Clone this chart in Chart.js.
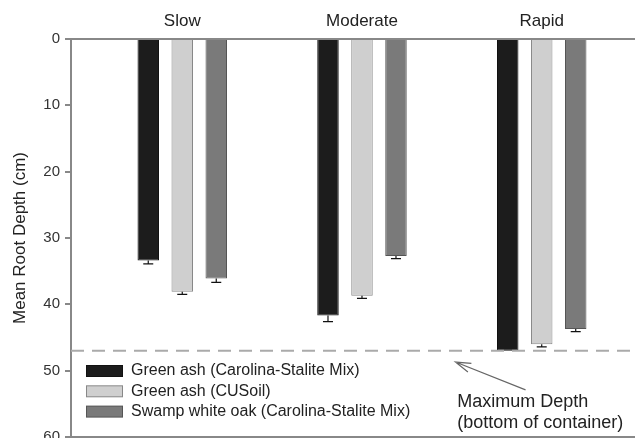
<!DOCTYPE html>
<html>
<head>
<meta charset="utf-8">
<script src="https://cdn.jsdelivr.net/npm/chart.js@4.4.1/dist/chart.umd.min.js"></script>
<style>
  html, body { margin: 0; padding: 0; background: #fff; }
  #wrap { width: 635px; height: 438px; }
</style>
</head>
<body>
<div id="wrap"><canvas id="rootChart" width="635" height="438"></canvas></div>
<script>
// Drain rate groups
const categories = ['Slow', 'Moderate', 'Rapid'];

// Mean root depth (cm) per series
const greenAshStalite = [33.4, 41.7, 47.0];
const greenAshCUSoil = [38.1, 38.7, 46.0];
const swampOakStalite = [36.1, 32.7, 43.7];

// Standard errors (drawn below the bar end only)
const errStalite = [0.5, 0.9, 0];
const errCUSoil = [0.4, 0.4, 0.4];
const errOak = [0.6, 0.4, 0.4];

const seriesLabels = [
    'Green ash (Carolina-Stalite Mix)',
    'Green ash (CUSoil)',
    'Swamp white oak (Carolina-Stalite Mix)'
];

const yTicks = [0, 10, 20, 30, 40, 50, 60];
const maxDepth = 47;

const FONT = '"Liberation Sans", Arial, sans-serif';

function toPoints(values) {
    return values.map((v, i) => ({ x: i, y: v }));
}

// error bars, legend, container line and note
const extras = {
    id: 'extras',
    afterDatasetsDraw(chart) {
        const ctx = chart.ctx;
        const yScale = chart.scales.y;
        ctx.save();
        ctx.strokeStyle = '#111';
        ctx.lineWidth = 1.2;
        chart.data.datasets.forEach((ds, di) => {
            const meta = chart.getDatasetMeta(di);
            meta.data.forEach((bar, i) => {
                const err = ds.errors[i];
                if (!err) return;
                const y0 = bar.y;
                const y1 = yScale.getPixelForValue(ds.data[i].y + err);
                ctx.beginPath();
                ctx.moveTo(bar.x, y0);
                ctx.lineTo(bar.x, y1);
                ctx.moveTo(bar.x - 5, y1);
                ctx.lineTo(bar.x + 5, y1);
                ctx.stroke();
            });
        });
        ctx.restore();
    },
    afterDraw(chart) {
        const ctx = chart.ctx;
        const area = chart.chartArea;
        const xScale = chart.scales.x;
        const yScale = chart.scales.y;
        ctx.save();

        // bottom frame line
        ctx.strokeStyle = '#888';
        ctx.lineWidth = 2;
        ctx.beginPath();
        ctx.moveTo(area.left, area.bottom);
        ctx.lineTo(area.right, area.bottom);
        ctx.stroke();

        // maximum depth dashed line
        const yMax = yScale.getPixelForValue(maxDepth);
        ctx.strokeStyle = '#aaa';
        ctx.lineWidth = 2;
        ctx.setLineDash([13, 8]);
        ctx.beginPath();
        ctx.moveTo(area.left, yMax);
        ctx.lineTo(area.right, yMax);
        ctx.stroke();
        ctx.setLineDash([]);

        // arrow + note
        const ax = xScale.getPixelForValue(1.52);
        const ay = yScale.getPixelForValue(48.7);
        const tx = xScale.getPixelForValue(1.91);
        const ty = yScale.getPixelForValue(52.9);
        ctx.strokeStyle = '#666';
        ctx.lineWidth = 1.2;
        ctx.beginPath();
        ctx.moveTo(tx, ty);
        ctx.lineTo(ax, ay);
        const ang = Math.atan2(ty - ay, tx - ax);
        ctx.moveTo(ax + 16 * Math.cos(ang - 0.3), ay + 16 * Math.sin(ang - 0.3));
        ctx.lineTo(ax, ay);
        ctx.lineTo(ax + 16 * Math.cos(ang + 0.3), ay + 16 * Math.sin(ang + 0.3));
        ctx.stroke();

        ctx.fillStyle = '#222';
        ctx.font = '18px ' + FONT;
        ctx.textBaseline = 'middle';
        ctx.textAlign = 'left';
        const nx = xScale.getPixelForValue(1.53);
        ctx.fillText('Maximum Depth', nx, yScale.getPixelForValue(54.8));
        ctx.fillText('(bottom of container)', nx, yScale.getPixelForValue(57.9));

        // legend
        ctx.font = '16px ' + FONT;
        const lx = area.left + 15;
        const ly = area.bottom - 72;
        chart.data.datasets.forEach((ds, i) => {
            const top = ly + i * 20.3;
            ctx.fillStyle = ds.borderColor;
            ctx.fillRect(lx, top, 37, 12);
            ctx.fillStyle = ds.backgroundColor;
            ctx.fillRect(lx + 1, top + 1, 35, 10);
            ctx.fillStyle = '#222';
            ctx.fillText(ds.label, lx + 45, top + 6);
        });
        ctx.restore();
    }
};

const ctx = document.getElementById('rootChart').getContext('2d');
new Chart(ctx, {
    type: 'bar',
    data: {
        datasets: [{
            label: seriesLabels[0],
            data: toPoints(greenAshStalite),
            errors: errStalite,
            backgroundColor: '#1c1c1c',
            borderColor: '#111111',
            borderWidth: 1
        }, {
            label: seriesLabels[1],
            data: toPoints(greenAshCUSoil),
            errors: errCUSoil,
            backgroundColor: '#cfcfcf',
            borderColor: '#888888',
            borderWidth: 1
        }, {
            label: seriesLabels[2],
            data: toPoints(swampOakStalite),
            errors: errOak,
            backgroundColor: '#7a7a7a',
            borderColor: '#555555',
            borderWidth: 1
        }]
    },
    options: {
        responsive: false,
        animation: false,
        devicePixelRatio: 1,
        categoryPercentage: 0.5675,
        barPercentage: 0.632,
        layout: { padding: { top: 0, right: 0, bottom: 1, left: 0 } },
        plugins: {
            legend: { display: false },
            tooltip: { enabled: false }
        },
        scales: {
            x: {
                type: 'linear',
                position: 'top',
                offset: false,
                min: -0.619,
                max: 2.519,
                afterBuildTicks(scale) {
                    scale.ticks = categories.map((c, i) => ({ value: i }));
                },
                afterFit(scale) {
                    scale.height = 39;
                    scale.paddingLeft = 0;
                    scale.paddingRight = 0;
                },
                grid: { display: false, drawTicks: false, offset: false },
                border: { display: true, color: '#888', width: 2 },
                ticks: {
                    padding: 7,
                    maxRotation: 0,
                    color: '#222',
                    font: { family: FONT, size: 17 },
                    callback: (v) => categories[v]
                }
            },
            y: {
                reverse: true,
                min: 0,
                max: 60,
                afterBuildTicks(scale) {
                    scale.ticks = yTicks.map(v => ({ value: v }));
                },
                afterFit(scale) {
                    scale.width = 71;
                    scale.paddingTop = 0;
                    scale.paddingBottom = 0;
                },
                grid: {
                    drawOnChartArea: false,
                    drawTicks: true,
                    tickLength: 6,
                    color: '#888',
                    lineWidth: 2
                },
                border: { display: true, color: '#888', width: 2 },
                ticks: {
                    padding: 5,
                    color: '#333',
                    font: { family: FONT, size: 15 }
                },
                title: {
                    display: true,
                    text: 'Mean Root Depth (cm)',
                    color: '#222',
                    font: { family: FONT, size: 17 },
                    padding: { top: 10, bottom: 0 }
                }
            }
        }
    },
    plugins: [extras]
});
</script>
</body>
</html>
